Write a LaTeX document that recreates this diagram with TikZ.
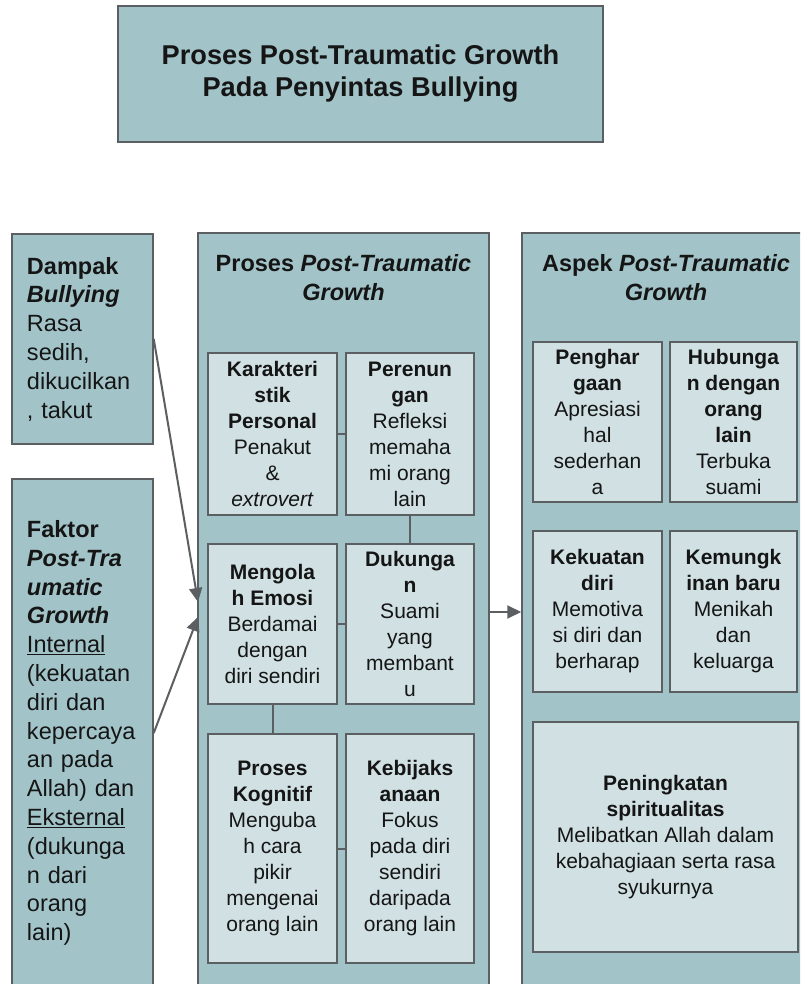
\documentclass[tikz,border=0pt]{standalone}
\usepackage{fontspec}
\setmainfont{Liberation Sans}
\usetikzlibrary{arrows.meta}
\definecolor{panelfill}{HTML}{A2C4C9}
\definecolor{innerfill}{HTML}{D0E0E3}
\definecolor{edgegrey}{HTML}{5B5F61}
\definecolor{txt}{HTML}{151515}
\tikzset{
  panel/.style={draw=edgegrey, fill=panelfill, line width=1.5pt, rectangle, inner sep=0pt},
  leftbox/.style={panel, text=txt, align=left, text width=111pt, inner xsep=15pt, inner ysep=0pt,
    font=\fontsize{23.5}{28.8}\selectfont},
  innerbox/.style={draw=edgegrey, fill=innerfill, line width=2pt, rectangle, inner sep=2pt,
    text=txt, align=center, font=\fontsize{21}{26}\selectfont},
  ptitle/.style={text=txt, align=center, inner sep=0pt, font=\fontsize{23.5}{29}\selectfont},
  link/.style={draw=edgegrey, line width=2pt},
  arr/.style={draw=edgegrey, line width=2pt, -{Triangle[length=14pt,width=13pt]}}
}
\begin{document}
\begin{tikzpicture}[x=1pt,y=-1pt]
\useasboundingbox (0,0) rectangle (800,984);
\clip (0,0) rectangle (800,984);

% title
\node[panel, minimum width=485pt, minimum height=136pt, text=txt, align=center,
  font=\fontsize{27.2}{32}\selectfont\bfseries] (title) at (360.5,74)
  {Proses Post-Traumatic Growth\\Pada Penyintas Bullying};

% left boxes
\node[leftbox, minimum height=210pt] (dampak) at (82.5,339)
  {\textbf{Dampak}\\\textbf{\textit{Bullying}}\\Rasa\\sedih,\\dikucilkan\\, takut};
\node[leftbox, minimum height=508pt] (faktor) at (82.5,733)
  {\textbf{Faktor}\\\textbf{\textit{Post-Tra}}\\\textbf{\textit{umatic}}\\\textbf{\textit{Growth}}\\\underline{Internal}\\(kekuatan\\diri dan\\kepercaya\\an pada\\Allah) dan\\\underline{Eksternal}\\(dukunga\\n dari\\orang\\lain)};

% middle panel
\node[panel, minimum width=291pt, minimum height=758pt] (proc) at (343.5,612) {};
\node[ptitle] (proctitle) at (343.5,277.5)
  {\textbf{Proses \textit{Post-Traumatic}}\\\textbf{\textit{Growth}}};
\node[innerbox, minimum width=129pt, minimum height=162pt] (kar) at (272.5,434)
  {\textbf{Karakteri}\\\textbf{stik}\\\textbf{Personal}\\Penakut\\\&\\\textit{extrovert}};
\node[innerbox, minimum width=128pt, minimum height=162pt] (per) at (410,434)
  {\textbf{Perenun}\\\textbf{gan}\\Refleksi\\memaha\\mi orang\\lain};
\node[innerbox, minimum width=129pt, minimum height=160pt] (men) at (272.5,624)
  {\textbf{Mengola}\\\textbf{h Emosi}\\Berdamai\\dengan\\diri sendiri};
\node[innerbox, minimum width=128pt, minimum height=160pt] (duk) at (410,624)
  {\textbf{Dukunga}\\\textbf{n}\\Suami\\yang\\membant\\u};
\node[innerbox, minimum width=129pt, minimum height=229pt] (kog) at (272.5,848.5)
  {\textbf{Proses}\\\textbf{Kognitif}\\Menguba\\h cara\\pikir\\mengenai\\orang lain};
\node[innerbox, minimum width=128pt, minimum height=229pt] (keb) at (410,848.5)
  {\textbf{Kebijaks}\\\textbf{anaan}\\Fokus\\pada diri\\sendiri\\daripada\\orang lain};
\draw[link] (kar) -- (per);
\draw[link] (per) -- (duk);
\draw[link] (men) -- (duk);
\draw[link] (men) -- (kog);
\draw[link] (kog) -- (keb);

% right panel
\node[panel, minimum width=288pt, minimum height=758pt] (asp) at (666,612) {};
\node[ptitle] (asptitle) at (666,277.5)
  {\textbf{Aspek \textit{Post-Traumatic}}\\\textbf{\textit{Growth}}};
\node[innerbox, minimum width=129pt, minimum height=160pt] (pen) at (597.5,422)
  {\textbf{Penghar}\\\textbf{gaan}\\Apresiasi\\hal\\sederhan\\a};
\node[innerbox, minimum width=127pt, minimum height=160pt] (hub) at (733.5,422)
  {\textbf{Hubunga}\\\textbf{n dengan}\\\textbf{orang}\\\textbf{lain}\\Terbuka\\suami};
\node[innerbox, minimum width=129pt, minimum height=161pt] (kek) at (597.5,611.5)
  {\textbf{Kekuatan}\\\textbf{diri}\\Memotiva\\si diri dan\\berharap};
\node[innerbox, minimum width=127pt, minimum height=161pt] (kem) at (733.5,611.5)
  {\textbf{Kemungk}\\\textbf{inan baru}\\Menikah\\dan\\keluarga};
\node[innerbox, minimum width=265pt, minimum height=230pt] (spi) at (665.5,837)
  {\textbf{Peningkatan}\\\textbf{spiritualitas}\\Melibatkan Allah dalam\\kebahagiaan serta rasa\\syukurnya};

% arrows
\coordinate (in1) at (198,602);
\coordinate (in2) at (198,617);
\draw[arr] (dampak.east) -- (in1);
\draw[arr] (faktor.east) -- (in2);
\draw[arr] (proc) -- (asp);
\end{tikzpicture}
\end{document}
